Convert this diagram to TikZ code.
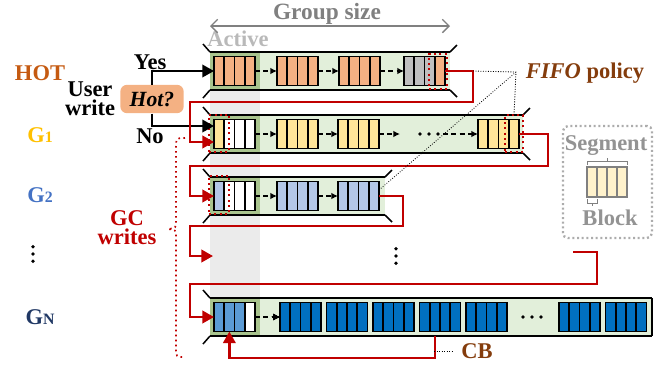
\documentclass[tikz,border=0pt]{standalone}
\usepackage{fontspec}
\setmainfont{Liberation Serif}
\usepackage{tikz}
\usetikzlibrary{arrows.meta,positioning,calc}
\definecolor{cHot}{RGB}{244,177,131}
\definecolor{cHotTxt}{RGB}{197,90,17}
\definecolor{cYel}{RGB}{255,230,153}
\definecolor{cGone}{RGB}{255,192,0}
\definecolor{cBlu}{RGB}{180,199,231}
\definecolor{cGtwo}{RGB}{68,114,196}
\definecolor{cMid}{RGB}{91,155,213}
\definecolor{cDark}{RGB}{0,112,192}
\definecolor{cGn}{RGB}{32,56,100}
\definecolor{cRed}{RGB}{192,0,0}
\definecolor{cBrown}{RGB}{132,60,12}
\definecolor{cPipe}{RGB}{226,239,218}
\definecolor{cAct}{RGB}{169,196,142}
\definecolor{cCol}{RGB}{235,235,235}
\definecolor{cLeg}{RGB}{255,242,204}
\definecolor{cGrey}{RGB}{191,191,191}

% one segment = four blocks in a row
\newcommand{\seg}[4][blk]{%
  \foreach \col [count=\k] in {#4}{%
    \ifnum\k=1
      \node[#1, fill=\col, anchor=west] (#2-\k) at (#3) {};
    \else
      \pgfmathtruncatemacro{\prev}{\k-1}
      \node[#1, fill=\col, right=0pt of #2-\prev] (#2-\k) {};
    \fi}%
}
% group pipe: left x, right x, centre y
\newcommand{\pipe}[3]{%
  \fill[cPipe] (#1,#3-19) rectangle (#2,#3+19);
  \fill[cAct] (#1,#3-19) rectangle (260,#3+19);
  \draw[pipeline] (#1,#3-19) -- (#2,#3-19) (#1,#3+19) -- (#2,#3+19);
  \draw[pipeline] (#1,#3-19) -- ++(-7,-8) (#1,#3+19) -- ++(-7,8);
}

\begin{document}
\begin{tikzpicture}[x=0.6pt, y=-0.6pt,
  lbl/.style={font=\fontsize{13.5}{11.5}\selectfont\bfseries, inner sep=0pt, align=center},
  blk/.style={draw, line width=1.1pt, minimum width=6.15pt, minimum height=17.4pt, inner sep=0pt, outer sep=0pt},
  legblk/.style={blk, draw=gray, line width=0.8pt, minimum width=6pt, minimum height=18pt},
  pipeline/.style={line width=0.9pt},
  nxt/.style={dash pattern=on 3pt off 2pt, line width=0.8pt, -{Latex[length=4pt,width=4pt]}},
  user/.style={line width=1.2pt, -{Triangle[length=7pt,width=7.5pt]}},
  gc/.style={cRed, line width=1.5pt, -{Triangle[length=7pt,width=7.5pt]}},
  victim/.style={draw=cRed, dotted, line width=1.2pt, inner sep=0pt, outer sep=0pt},
]
  \useasboundingbox (0,0) rectangle (659,369);

  \fill[cCol] (210,52) rectangle (260,336);
  \pipe{210}{450}{71}
  \draw[pipeline] (450,52) -- ++(7,-7) (450,90) -- ++(7,7);
  \pipe{210}{523}{134}
  \draw[pipeline] (523,115) -- ++(7,-7) (523,153) -- ++(7,7);
  \pipe{210}{385}{196}
  \draw[pipeline] (385,177) -- ++(7,-7) (385,215) -- ++(7,7);
  \pipe{210}{652}{317}
  \draw[pipeline] (652,298) -- (652,336);
  \coordinate (gnbot) at (0,336);

  \seg{hot1}{214,71}{cHot,cHot,cHot,cHot}
  \seg{hot2}{277,71}{cHot,cHot,cHot,cHot}
  \seg{hot3}{339,71}{cHot,cHot,cHot,cHot}
  \seg{hot4}{404,71}{cGrey,cGrey,cGrey,cHot}
  \foreach \a/\b in {hot1/hot2,hot2/hot3,hot3/hot4}
    \draw[nxt] (\a-4.east) -- (\b-1.west);

  \seg{g1a}{214,134}{cYel,white,white,white}
  \seg{g1b}{277,134}{cYel,cYel,cYel,cYel}
  \seg{g1c}{338,134}{cYel,cYel,cYel,cYel}
  \seg{g1d}{478,134}{cYel,cYel,cYel,cYel}
  \draw[nxt] (g1a-4.east) -- (g1b-1.west);
  \draw[nxt] (g1b-4.east) -- (g1c-1.west);
  \draw[nxt] (g1c-4.east) -- ++(21,0);
  \draw[nxt] ($(g1d-1.west)+(-35,0)$) -- (g1d-1.west);
  \coordinate (g1dots) at (429,134);

  \seg{g2a}{214,196}{cBlu,white,white,white}
  \seg{g2b}{277,196}{cBlu,cBlu,cBlu,cBlu}
  \seg{g2c}{338,196}{cBlu,cBlu,cBlu,cBlu}
  \draw[nxt] (g2a-4.east) -- (g2b-1.west);
  \draw[nxt] (g2b-4.east) -- (g2c-1.west);

  \seg{gn1}{214,317}{cMid,cMid,cMid,white}
  \foreach \n/\x in {gn2/280,gn3/326.5,gn4/373,gn5/419.5,gn6/466,gn7/559,gn8/605.5}
    \seg{\n}{\x,317}{cDark,cDark,cDark,cDark}
  \draw[nxt] (gn1-4.east) -- (gn2-1.west);
  \coordinate (gndots) at (532,317);

  \foreach \d in {-9,0,9} {
    \fill (g1dots) ++(\d,0) circle (1.1pt);
    \fill (gndots) ++(\d,0) circle (1.1pt);
    \fill (33,254) ++(0,\d*0.8) circle (1.1pt);
    \fill (396,256) ++(0,\d*0.8) circle (1.1pt);
  }

  \node[victim, minimum width=10.8pt, minimum height=21pt] (hotv) at (438,71.5) {};
  \node[victim, minimum width=12pt, minimum height=22.2pt] (g1v) at (219,133) {};
  \node[victim, minimum width=10.8pt, minimum height=22.2pt] (g1w) at (514,133.5) {};
  \node[victim, minimum width=12pt, minimum height=22.8pt] (g2v) at (219,194.5) {};

  % user writes
  \node[lbl, text=cHotTxt] (lhot) at (40,73) {HOT};
  \node[lbl] (user) at (90,99) {User\\write};
  \node[fill=cHot, rounded corners=4pt, minimum width=38pt, minimum height=17pt, inner sep=0pt,
    font=\fontsize{13}{13}\selectfont\bfseries\itshape] (hot) at (152,99) {Hot?};
  \node[lbl] (yes) at (150,62) {Yes};
  \node[lbl] (no) at (150,136) {No};
  \draw[user] (hot.north) |- (hot1-1.west);
  \draw[user] (hot.south) |- ($(g1a-1.west)+(0,-8)$);

  % GC writes
  \coordinate (gapin) at (213,256);
  \coordinate (gapout) at (573,252);
  \draw[gc] (hot4-4.east) -- ++(28,0) coordinate (hotout) -- ++(0,31)
    -| ($(g1a-1.west)+(-24,8)$) -- ($(g1a-1.west)+(0,8)$);
  \draw[gc] (g1d-4.east) -- ++(29,0) -- ++(0,32) -| ($(g2a-1.west)+(-24,0)$) -- (g2a-1.west);
  \draw[gc] (g2c-4.east) -- ++(24,0) -- ++(0,30) -| ($(gapin)+(-23,0)$) -- (gapin);
  \draw[gc] (gapout) -- ++(24,0) -- ++(0,32) -| ($(gn1-1.west)+(-24,0)$) -- (gn1-1.west);
  \draw[gc] (gn5-2.south |- gnbot) -- ++(0,22) -| (gn1-2.south);

  \node[lbl, text=cGone] (lg1) at (40,135) {G{\fontsize{9.5}{9}\selectfont 1}};
  \node[lbl, text=cGtwo] (lg2) at (40,195) {G{\fontsize{9.5}{9}\selectfont 2}};
  \node[lbl, text=cGn] (lgn) at (40,317) {G{\fontsize{9.5}{9}\selectfont N}};
  \node[lbl, text=cRed] (gcw) at (127,228) {GC\\writes};
  \draw[cRed, dotted, line width=1pt] (185,138) .. controls (176,138) .. (176,148) -- (176,221)
    .. controls (176,228) .. (168,229) .. controls (176,230) .. (176,237) -- (176,348)
    .. controls (176,357) .. (185,357);

  \node[lbl, text=gray!55] (act) [anchor=west] at (207,39) {Active};
  \coordinate (gsl) at (210,26);
  \coordinate (gsr) at (450,26);
  \draw[gray, line width=0.8pt, {Straight Barb[length=4pt,width=8pt]}-{Straight Barb[length=4pt,width=8pt]}] (gsl) -- (gsr);
  \node[lbl, text=black!50, font=\fontsize{14}{14}\selectfont\bfseries] (gsize) at (327,14) {Group size};

  \node[lbl, text=cBrown] (fifot) at (585,73) {\textit{FIFO} policy};
  \coordinate (fifo) at (516,72);
  \draw[densely dotted, line width=0.5pt] (hotout) -- (fifo) -- (g1w.north)
    (fifo) -- ([yshift=3.6pt]g2c-4.east);

  \node[lbl, text=cBrown] (cb) at (477,351) {CB};
  \draw[densely dotted, line width=0.5pt] ($(cb.west)+(-27,0)$) -- ($(cb.west)+(-9,0)$);

  % legend
  \node[draw=gray!65, line width=1.4pt, dash pattern=on 1.2pt off 1.6pt, rounded corners=3pt,
    minimum width=53.4pt, minimum height=67.2pt] (legend) at (607.5,182) {};
  \node[lbl, text=gray!85!white] (lseg) at (606,146) {Segment};
  \seg[legblk]{leg}{587,182}{cLeg,cLeg,cLeg,cLeg}
  \draw[gray, line width=0.6pt] ($(leg-1.north west)+(0,-2)$) -- ++(0,-4)
    -- ($(leg-4.north east)+(0,-6)$) -- ++(0,4);
  \draw[gray, line width=0.6pt] ($(leg-1.north west)!0.5!(leg-4.north east)+(0,-6)$) -- ++(0,-3);
  \draw[gray, line width=0.6pt] ($(leg-1.south west)+(0,2)$) -- ++(0,4) -| ($(leg-1.south east)+(0,2)$);
  \draw[gray, line width=0.6pt] ($(leg-1.south)+(0,6)$) -- ++(0,3);
  \node[lbl, text=gray!85!white] (lblock) at (610,218) {Block};
\end{tikzpicture}
\end{document}
